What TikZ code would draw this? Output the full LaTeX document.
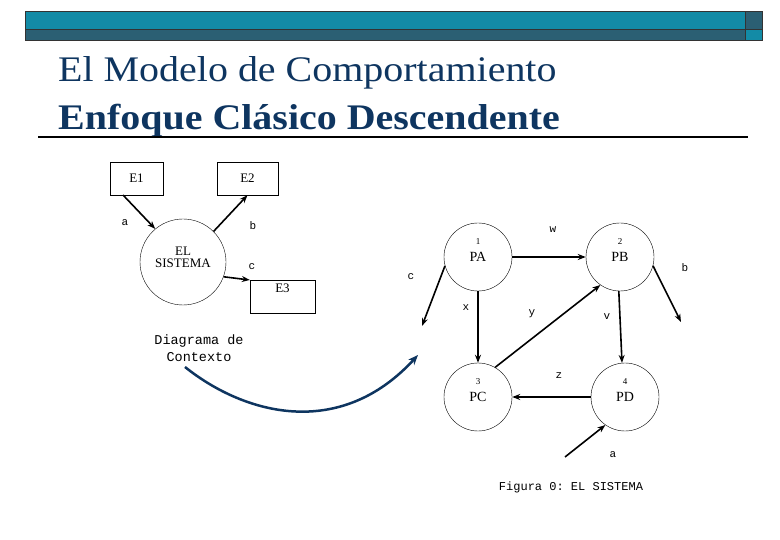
\documentclass[tikz,border=0pt]{standalone}
\usepackage{fontspec}
\setmainfont{Liberation Serif}
\setmonofont{Liberation Mono}
\usetikzlibrary{arrows.meta}
\definecolor{teal1}{HTML}{138BA6}
\definecolor{teal2}{HTML}{2B5F73}
\definecolor{navy}{HTML}{0E3560}
\begin{document}
\begin{tikzpicture}[x=1pt,y=-1pt,
  box/.style={draw,thin,minimum width=#1,minimum height=33pt,inner sep=0pt,font=\fontsize{13}{13}\selectfont},
  proc/.style={draw,thin,circle,minimum size=68pt,inner sep=0pt,align=center,font=\fontsize{14}{14}\selectfont},
  lab/.style={font=\ttfamily\fontsize{11}{11}\selectfont},
  arr/.style={line width=1.6pt,-{Stealth[length=8pt,width=6pt]}}]
\useasboundingbox (0,0) rectangle (780,540);
% banner
\fill[teal1] (25,12) rectangle (745,30);
\fill[teal2] (25,30) rectangle (745,41);
\fill[teal2] (745,12) rectangle (762,30);
\fill[teal1] (745,30) rectangle (762,41);
\draw[line width=1pt,black!80] (25,12) rectangle (762,41) (25,30) -- (762,30) (745,12) -- (745,41);
\node[anchor=base west,text=navy,font=\fontsize{36}{36}\selectfont,inner sep=0pt] (t1) at (58,82) {\scalebox{1.11}[1]{El Modelo de Comportamiento}};
\node[anchor=base west,text=navy,font=\bfseries\fontsize{36}{36}\selectfont,inner sep=0pt] (t2) at (58,130) {\scalebox{1.11}[1]{Enfoque Clásico Descendente}};
\draw[line width=1.5pt] (38,137) -- (748,137);
% context diagram
\node[box=53pt] (e1) at (136.5,178.5) {E1};
\node[box=61pt] (e2) at (247.5,178.5) {E2};
\node[box=65pt,anchor=north,text depth=18pt] (e3) at (282.5,280) {E3};
\node[draw,thin,circle,minimum size=86pt,inner sep=0pt,align=center,font=\fontsize{13}{16}\selectfont] (sys) at (183,262) {\raisebox{10pt}{\shortstack{EL\\SISTEMA}}};
\draw[arr] (123,195) -- (sys.130);
\draw[arr] (sys.45) -- (e2.south);
\draw[arr] (sys.-20) -- (e3.north west);
\node[lab] (la) at (125,223) {a};
\node[lab] (lb) at (253,226) {b};
\node[lab] (lc) at (252,267) {c};
\node[lab,align=center,font=\ttfamily\fontsize{13.5}{17}\selectfont] (dc) at (199,348) {Diagrama de\\Contexto};
\coordinate (cs) at (185,367);
\coordinate (ce) at (418,355);
\draw[navy,line width=2.5pt,-{Stealth[length=10pt,width=8pt]}] (cs) .. controls (245,415) and (340,440) .. (ce);
% process diagram
\node[proc] (pa) at (478,257) {PA};
\node[proc] (pb) at (620,257) {PB};
\node[proc] (pc) at (478,397) {PC};
\node[proc] (pd) at (625,397) {PD};
\foreach \n/\t in {pa/1,pb/2,pc/3,pd/4} \node[font=\fontsize{9}{9}\selectfont] at ([yshift=15pt]\n) {\t};
\draw[arr] (pa.east) -- (pb.west);
\draw[arr] (pa.south) -- (pc.north);
\draw[arr] (pc.60) -- (pb.235);
\draw[arr] (pb.268) -- (pd.95);
\draw[arr] (pd.west) -- (pc.east);
\coordinate (co) at (422,326);
\coordinate (bo) at (681,322);
\coordinate (ai) at (565,457);
\draw[arr] (pa.195) -- (co);
\draw[arr] (pb.-15) -- (bo);
\draw[arr] (ai) -- (pd.235);
\node[lab] at (553,230) {w};
\node[lab] at (411,277) {c};
\node[lab] at (685,268) {b};
\node[lab] at (466,308) {x};
\node[lab] at (532,314) {y};
\node[lab] at (607,317) {v};
\node[lab] at (559,376) {z};
\node[lab] at (613,455) {a};
\node[lab,font=\ttfamily\fontsize{12}{12}\selectfont] (cap) at (571,487) {Figura 0: EL SISTEMA};
\end{tikzpicture}
\end{document}
